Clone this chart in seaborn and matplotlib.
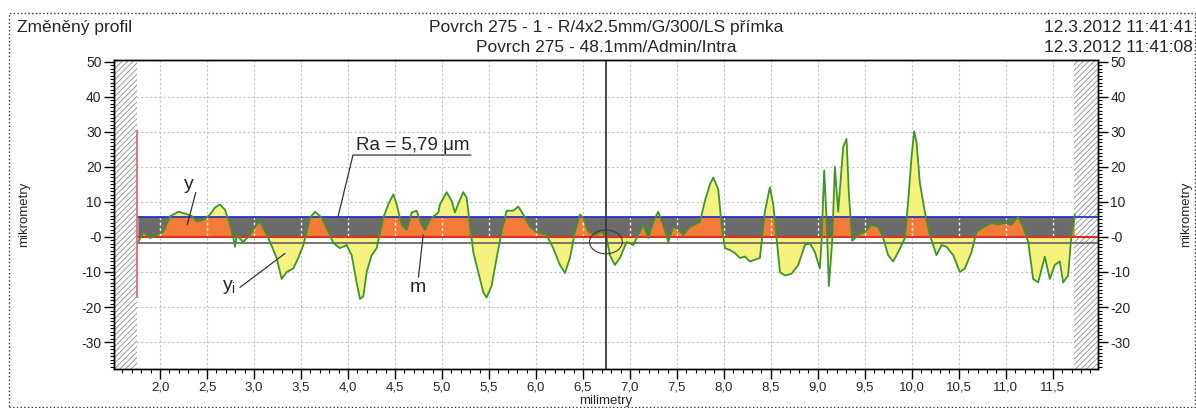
import numpy as np
import matplotlib
matplotlib.use("Agg")
import matplotlib.pyplot as plt
from matplotlib.patches import Ellipse, Rectangle
import seaborn as sns

# --- profil (x v mm, y v um) ---
x_mm = [1.769, 1.822, 1.894, 1.965, 2.035, 2.106, 2.195, 2.266, 2.337, 2.390,
        2.461, 2.532, 2.585, 2.638, 2.691, 2.745, 2.780, 2.798, 2.816, 2.887,
        2.957, 3.028, 3.064, 3.099, 3.170, 3.241, 3.294, 3.348, 3.418, 3.471,
        3.525, 3.596, 3.649, 3.720, 3.791, 3.844, 3.915, 3.986, 4.039, 4.092,
        4.128, 4.163, 4.199, 4.252, 4.305, 4.376, 4.429, 4.482, 4.518, 4.571,
        4.624, 4.678, 4.731, 4.784, 4.819, 4.872, 4.961,
        4.979, 5.050, 5.103, 5.138, 5.174, 5.227, 5.262, 5.298, 5.333, 5.386,
        5.440, 5.475, 5.528, 5.582, 5.635, 5.688, 5.759, 5.812, 5.865, 5.936,
        6.007, 6.113, 6.184, 6.255, 6.309, 6.362, 6.415, 6.468, 6.504, 6.557,
        6.628, 6.699, 6.752, 6.787, 6.840, 6.894, 6.965, 7.035, 7.106, 7.142,
        7.195, 7.248, 7.301, 7.355, 7.408, 7.461, 7.514, 7.567, 7.638, 7.745,
        7.798, 7.851, 7.887, 7.940, 7.975, 8.011, 8.064, 8.117, 8.170, 8.223,
        8.277,
        8.383, 8.436, 8.489, 8.525, 8.560, 8.596, 8.649, 8.720, 8.791, 8.862,
        8.915, 8.968, 9.021, 9.039, 9.067, 9.092, 9.117, 9.152, 9.181, 9.216,
        9.270, 9.305, 9.330, 9.365, 9.429, 9.500, 9.571, 9.642, 9.695, 9.748,
        9.801, 9.855, 9.926, 9.961, 9.997, 10.024, 10.050, 10.085, 10.138, 10.191,
        10.262, 10.316, 10.369, 10.440, 10.511, 10.564, 10.635, 10.688, 10.777, 10.848,
        10.918, 10.989, 11.060, 11.131, 11.184, 11.238, 11.291, 11.344, 11.415, 11.468,
        11.521, 11.574, 11.610, 11.663, 11.698, 11.734]
y_um = [-1.4, 1.5, -0.3, 0.6, 1.5, 5.9, 7.2, 6.7, 6.0, 4.4,
        4.9, 6.4, 8.4, 9.3, 7.8, 3.5, -0.3, -2.8, 0.4, -1.4,
        0.6, 3.5, 4.3, 2.6, -1.4, -6.0, -12.0, -10.0, -9.0, -6.0,
        -2.3, 5.5, 7.2, 5.5, 1.5, -1.7, -3.2, -2.3, -5.2, -13.0,
        -17.7, -17.0, -10.0, -5.2, -3.2, 5.5, 9.3, 12.2, 9.3, 3.5,
        2.0, 7.0, 7.5, 3.5, 2.0, 5.0, 7.0,
        9.3, 12.8, 10.3, 7.0, 9.5, 12.8, 11.3, 3.5, -4.3, -10.0,
        -15.8, -17.3, -14.0, -6.0, 1.5, 7.5, 7.5, 8.7, 6.4, 2.9,
        1.4, 0.6, -3.2, -8.0, -10.3, -6.0, 1.5, 6.4, 5.5, 1.5,
        0.6, 1.5, -0.3, -5.2, -8.0, -6.0, -1.4, -2.3, 1.5, 3.5,
        -0.3, 4.3, 7.2, 3.5, -1.4, 2.9, 2.3, 0.6, 2.9, 4.3,
        10.3, 15.0, 17.0, 13.6, 3.5, -3.2, -3.7, -4.6, -6.0, -5.6,
        -7.0,
        -6.0, 7.2, 14.2, 9.3, -0.3, -10.0, -11.0, -10.5, -8.0, -2.3,
        -1.8, -4.3, -9.0, -1.4, 19.0, 5.5, -14.0, -1.4, 20.0, 7.2,
        25.8, 28.0, 12.2, -1.1, 0.6, 1.5, 3.5, 2.9, -0.3, -5.2,
        -7.0, -4.3, -0.3, 10.3, 22.9, 30.2, 27.0, 15.5, 7.2, 0.6,
        -5.2, -2.3, -2.8, -5.2, -10.0, -9.0, -4.3, 1.5, 3.0, 4.0,
        3.5, 4.0, 3.5, 5.8, 2.9, -1.4, -12.0, -13.0, -5.6, -12.0,
        -8.0, -7.0, -13.0, -11.0, 0.6, 6.4]

ra = 5.79
lower_line = -1.6
cursor_x = 6.745
start_x = 1.755
end_x = 11.73

x_ticks = np.arange(2.0, 11.51, 0.5)
x_labels = [f"{v:.1f}".replace(".", ",") for v in x_ticks]
y_ticks = [-30, -20, -10, 0, 10, 20, 30, 40, 50]
y_labels = ["-30", "-20", "-10", "-0", "10", "20", "30", "40", "50"]

sns.set_theme(style="white")
plt.rcParams['font.family'] = ['Liberation Sans', 'DejaVu Sans']
plt.rcParams['hatch.linewidth'] = 0.6

x = np.array(x_mm)
y = np.array(y_um)

fig = plt.figure(figsize=(11.96, 4.08), dpi=100)
ax = fig.add_axes([0.0953, 0.0956, 0.8227, 0.757])
xmin, xmax = 1.51, 11.98
ax.set_xlim(xmin, xmax)
ax.set_ylim(-37.7, 50.5)

# mrizka
for v in x_ticks:
    ax.axvline(v, color='#c4c4c4', lw=0.8, ls=(0, (2, 2)), zorder=0)
for v in [-30, -20, -10, 10, 20, 30, 40]:
    ax.axhline(v, color='#c4c4c4', lw=0.8, ls=(0, (2, 2)), zorder=0)

# srafovane okraje
ax.axvspan(xmin, start_x - 0.005, facecolor='white', edgecolor='#8a8a8a',
           hatch='//////', lw=0, zorder=1)
ax.axvspan(end_x, xmax, facecolor='white', edgecolor='#8a8a8a',
           hatch='//////', lw=0, zorder=1)

# vyplne
ax.fill_between(x, y, ra, where=y < ra, interpolate=True, color='#6b6b6b', lw=0, zorder=2)
ax.fill_between(x, 0, y, where=y > 0, interpolate=True, color='#f47a38', lw=0, zorder=2)
ax.fill_between(x, ra, y, where=y > ra, interpolate=True, color='#f6f27e', lw=0, zorder=3)
ax.fill_between(x, y, 0, where=y < 0, interpolate=True, color='#f6f27e', lw=0, zorder=3)
ax.vlines(x_ticks, 0.3, ra - 0.3, colors='white', linestyles=(0, (2, 2)), lw=1.0, zorder=3.5)

# cary
ax.hlines(ra, start_x, xmax, color='#2a36c8', lw=1.3, zorder=4)
ax.hlines(0, start_x, xmax, color='#e0301c', lw=1.5, zorder=4)
ax.hlines(lower_line, start_x, xmax, color='#6a6a6a', lw=1.3, zorder=4)
ax.vlines(start_x, -17.5, 30.5, color='#e46a7a', lw=1.3, zorder=4)

sns.lineplot(x=x_mm, y=y_um, ax=ax, color='#3c962a', lw=1.3,
             estimator=None, sort=False, zorder=5)

ax.axvline(cursor_x, color='#3a3a3a', lw=1.3, zorder=6)
ax.add_patch(Ellipse((cursor_x, -1.4), 0.35, 6.8, fill=False,
                     edgecolor='#3a3a3a', lw=0.8, zorder=6))

# popisky
ax.text(4.09, 24.8, "Ra = 5,79 \u03bcm", fontsize=13.5, va='baseline', ha='left', zorder=7)
ax.plot([3.894, 4.053, 5.309], [ra, 23.4, 23.4], color='#333333', lw=0.9, zorder=7)
ax.text(2.31, 14.9, "y", fontsize=14, ha='center', va='center', zorder=7)
ax.plot([2.38, 2.29], [12.7, 3.5], color='#333333', lw=0.9, zorder=7)
ax.text(2.73, -14.3, r"$\mathregular{y_i}$", fontsize=14, ha='center', va='center', zorder=7)
ax.plot([2.85, 3.33], [-14.4, -4.7], color='#333333', lw=0.9, zorder=7)
ax.text(4.745, -14.5, "m", fontsize=14, ha='center', va='center', zorder=7)
ax.plot([4.75, 4.80], [-11.5, 0.6], color='#333333', lw=0.9, zorder=7)

# osy
ax.set_xticks(x_ticks)
ax.set_xticklabels(x_labels, fontsize=9.5)
ax.set_xticks(np.arange(1.6, 11.95, 0.1), minor=True)
ax.set_yticks(y_ticks)
ax.set_yticklabels(y_labels, fontsize=10)
ax.set_yticks(np.arange(-37, 51, 1), minor=True)
ax.tick_params(axis='both', which='major', direction='out', length=7, width=1,
               color='black', pad=2, bottom=True, left=True)
ax.tick_params(axis='both', which='minor', direction='out', length=3, width=0.8,
               color='black', bottom=True, left=True)
ax.set_xlabel("milimetry", fontsize=9.5, labelpad=1)
ax.set_ylabel("mikrometry", fontsize=9.5)
ax.yaxis.set_label_coords(-0.085, 0.5)
for s in ax.spines.values():
    s.set_color('black')
    s.set_linewidth(1.0)

ax2 = ax.twinx()
ax2.set_ylim(ax.get_ylim())
ax2.set_yticks(y_ticks)
ax2.set_yticklabels(y_labels, fontsize=10)
ax2.set_yticks(np.arange(-37, 51, 1), minor=True)
ax2.tick_params(axis='y', which='major', direction='out', length=7, width=1,
                color='black', pad=2, right=True)
ax2.tick_params(axis='y', which='minor', direction='out', length=3, width=0.8,
                color='black', right=True)
ax2.set_ylabel("mikrometry", fontsize=9.5, rotation=90)
ax2.yaxis.set_label_coords(1.0835, 0.5)
ax2.grid(False)
for s in ax2.spines.values():
    s.set_color('black')
    s.set_linewidth(1.0)

# hlavicka
fig.text(17 / 1196, 1 - 32 / 408, "Změněný profil", fontsize=12.5, ha='left', va='baseline')
fig.text(606 / 1196, 1 - 32 / 408, "Povrch 275 - 1 - R/4x2.5mm/G/300/LS přímka",
         fontsize=12.5, ha='center', va='baseline')
fig.text(606 / 1196, 1 - 52 / 408, "Povrch 275 - 48.1mm/Admin/Intra",
         fontsize=12.5, ha='center', va='baseline')
fig.text(1193 / 1196, 1 - 32 / 408, "12.3.2012 11:41:41", fontsize=12.5, ha='right', va='baseline')
fig.text(1193 / 1196, 1 - 52 / 408, "12.3.2012 11:41:08", fontsize=12.5, ha='right', va='baseline')

fig.patches.append(Rectangle((9 / 1196, 1 / 408), 1186 / 1196, 394 / 408,
                             transform=fig.transFigure, fill=False, ls=':',
                             lw=1.0, edgecolor='#333333'))

fig.savefig("out.png", dpi=100)
